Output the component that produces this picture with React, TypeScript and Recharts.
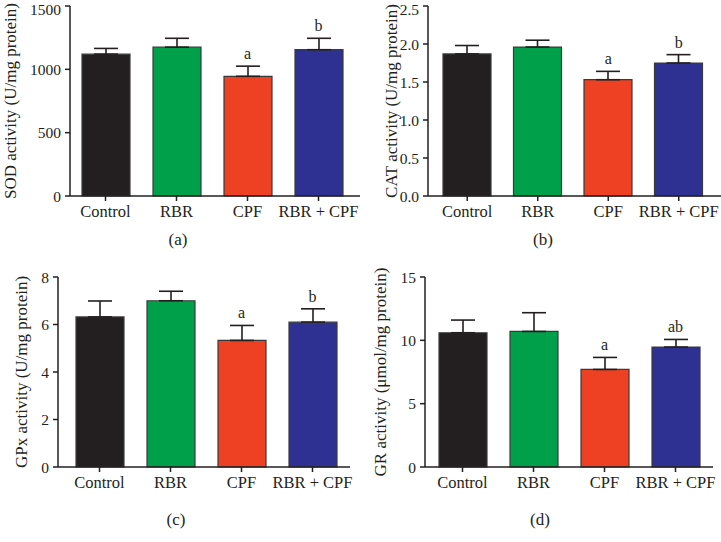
import React from 'react';
import {
  ComposedChart,
  Bar,
  Line,
  Cell,
  XAxis,
  YAxis,
  ErrorBar,
  LabelList,
} from 'recharts';

const groups = ['Control', 'RBR', 'CPF', 'RBR + CPF'];
const barColors = ['#231f20', '#00a04b', '#ee4124', '#2e3192'];

const sodMean = [1120, 1175, 945, 1155];
const sodErr = [45, 70, 80, 90];
const sodSig = ['', '', 'a', 'b'];
const sodTicks = [0, 500, 1000, 1500];

const catMean = [1.87, 1.96, 1.53, 1.75];
const catErr = [0.11, 0.09, 0.11, 0.11];
const catSig = ['', '', 'a', 'b'];
const catTicks = [0, 0.5, 1.0, 1.5, 2.0, 2.5];

const gpxMean = [6.32, 7.0, 5.33, 6.1];
const gpxErr = [0.67, 0.4, 0.63, 0.56];
const gpxSig = ['', '', 'a', 'b'];
const gpxTicks = [0, 2, 4, 6, 8];

const grMean = [10.6, 10.7, 7.7, 9.47];
const grErr = [1.0, 1.48, 0.95, 0.6];
const grSig = ['', '', 'a', 'ab'];
const grTicks = [0, 5, 10, 15];

const FONT = '"Liberation Serif", "Times New Roman", serif';
const INK = '#231f20';
const EDGE = '#3a3a3a';

const build = (mean: number[], err: number[], sig: string[]) =>
  groups.map((g, i) => ({
    name: g,
    mean: mean[i],
    err: [0, err[i]],
    top: mean[i] + err[i],
    sig: sig[i],
  }));

interface PanelProps {
  left: number;
  top: number;
  width: number;
  plotLeft: number;
  plotTop: number;
  marginRight: number;
  padL: number;
  padR: number;
  labelX: number;
  yLabel: string;
  caption: string;
  captionX: number;
  captionY: number;
  ticks: number[];
  fmt?: (v: number) => string;
  data: any[];
}

const Panel = (p: PanelProps) => {
  // plot area is 190px tall, x axis band 24px below it
  const height = p.plotTop + 190 + 24 + 5;
  return (
    <div style={{ position: 'absolute', left: p.left, top: p.top, width: p.width, height: height + 40 }}>
      <ComposedChart
        width={p.width}
        height={height}
        data={p.data}
        margin={{ top: p.plotTop, right: p.marginRight, bottom: 5, left: 0 }}
      >
        <XAxis
          dataKey="name"
          height={24}
          padding={{ left: p.padL, right: p.padR }}
          axisLine={{ stroke: INK, strokeWidth: 1.5 }}
          tickLine={{ stroke: INK, strokeWidth: 1.5 }}
          tickSize={5}
          tickMargin={4}
          tick={{ fill: INK, fontSize: 16.5, fontFamily: FONT }}
          interval={0}
        />
        <YAxis
          width={p.plotLeft}
          domain={[p.ticks[0], p.ticks[p.ticks.length - 1]]}
          ticks={p.ticks}
          tickFormatter={p.fmt}
          axisLine={{ stroke: INK, strokeWidth: 1.5 }}
          tickLine={{ stroke: INK, strokeWidth: 1.5 }}
          tickSize={5}
          tickMargin={4}
          tick={{ fill: INK, fontSize: 15.5, fontFamily: FONT }}
          label={{
            value: p.yLabel,
            angle: -90,
            position: 'insideLeft',
            offset: p.labelX,
            style: { textAnchor: 'middle', fill: INK, fontSize: 17, fontFamily: FONT },
          }}
        />
        <Bar dataKey="mean" barSize={48} stroke={EDGE} strokeWidth={1.2} isAnimationActive={false}>
          {p.data.map((d, i) => (
            <Cell key={`c-${i}`} fill={barColors[i]} />
          ))}
          <ErrorBar dataKey="err" width={12} stroke={INK} strokeWidth={1.6} direction="y" />
        </Bar>
        <Line
          dataKey="top"
          stroke="none"
          dot={false}
          activeDot={false}
          isAnimationActive={false}
        >
          <LabelList dataKey="sig" position="top" offset={7} fill={INK} fontSize={16} fontFamily={FONT} />
        </Line>
      </ComposedChart>
      <div
        style={{
          position: 'absolute',
          left: p.captionX - 20,
          width: 40,
          top: p.captionY - 10,
          textAlign: 'center',
          fontFamily: FONT,
          fontSize: 17,
          color: INK,
          lineHeight: '20px',
        }}
      >
        {p.caption}
      </div>
    </div>
  );
};

export default function App() {
  return (
    <div style={{ position: 'absolute', left: 0, top: 0, width: 721, height: 542, background: '#fff' }}>
      <Panel
        left={0}
        top={0}
        width={360}
        plotLeft={70}
        plotTop={6}
        marginRight={0}
        padL={0}
        padR={6}
        labelX={10}
        yLabel="SOD activity (U/mg protein)"
        caption="(a)"
        captionX={178}
        captionY={240}
        ticks={sodTicks}
        data={build(sodMean, sodErr, sodSig)}
      />
      <Panel
        left={360}
        top={0}
        width={361}
        plotLeft={68}
        plotTop={6}
        marginRight={0}
        padL={4}
        padR={7}
        labelX={31}
        yLabel="CAT activity (U/mg protein)"
        caption="(b)"
        captionX={183}
        captionY={240}
        ticks={catTicks}
        fmt={(v) => v.toFixed(1)}
        data={build(catMean, catErr, catSig)}
      />
      <Panel
        left={0}
        top={261}
        width={360}
        plotLeft={58}
        plotTop={16}
        marginRight={10}
        padL={6}
        padR={2}
        labelX={21}
        yLabel="GPx activity (U/mg protein)"
        caption="(c)"
        captionX={176}
        captionY={259}
        ticks={gpxTicks}
        data={build(gpxMean, gpxErr, gpxSig)}
      />
      <Panel
        left={360}
        top={261}
        width={361}
        plotLeft={65}
        plotTop={16}
        marginRight={8}
        padL={2}
        padR={2}
        labelX={20}
        yLabel="GR activity (μmol/mg protein)"
        caption="(d)"
        captionX={180}
        captionY={259}
        ticks={grTicks}
        data={build(grMean, grErr, grSig)}
      />
    </div>
  );
}
